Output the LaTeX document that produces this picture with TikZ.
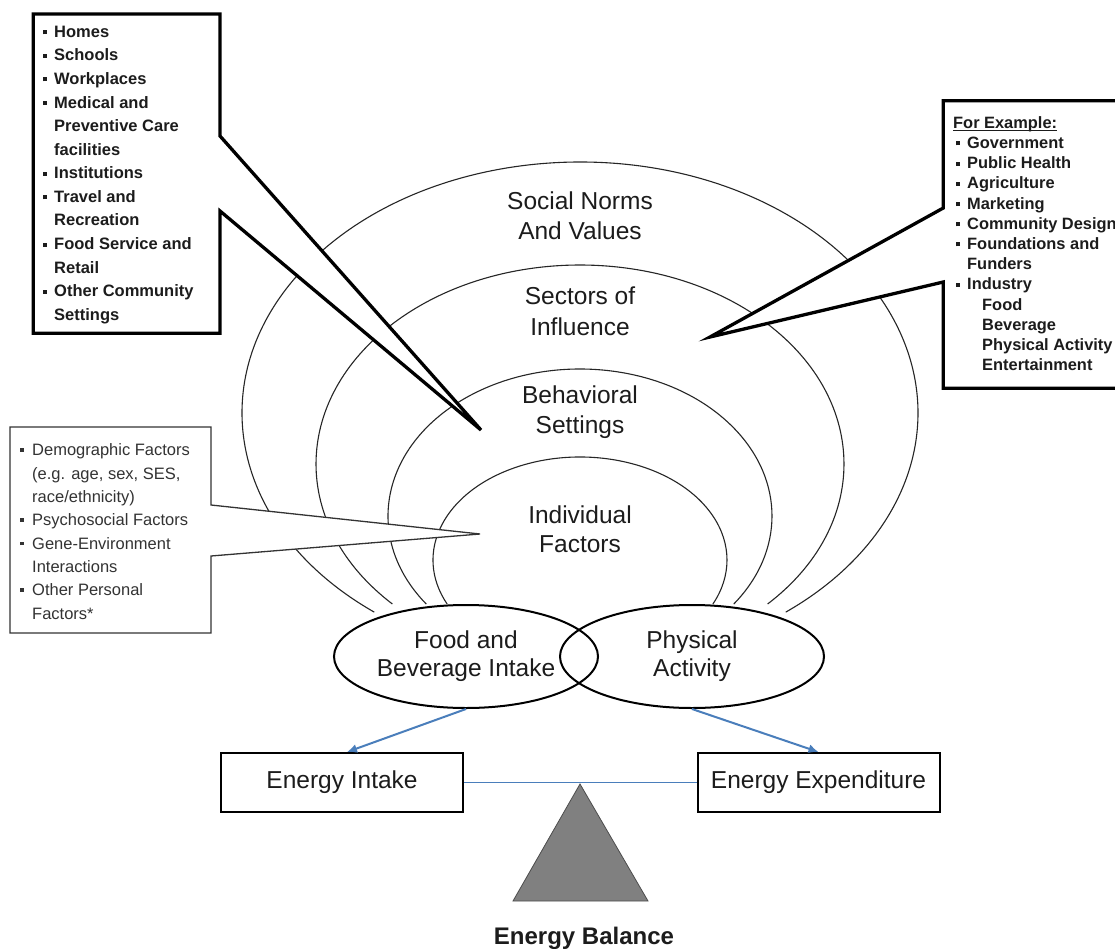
\documentclass[tikz,border=0pt]{standalone}
\usepackage{fontspec}
\setmainfont{Liberation Sans}
\usetikzlibrary{arrows.meta,shapes.geometric}
\definecolor{arrblue}{RGB}{74,126,187}
\definecolor{txt}{RGB}{28,28,28}
\definecolor{tri}{RGB}{128,128,128}
\newcommand\Bu{\makebox[11pt][l]{\raisebox{3pt}{\rule{4pt}{4pt}}}}
\newcommand\Co{\hspace*{11pt}}
\newcommand\Su{\hspace*{26pt}}
\newcommand\Bs{\makebox[12pt][l]{\raisebox{4pt}{\rule{3.5pt}{3.5pt}}}}
\newcommand\Cs{\hspace*{12pt}}
\begin{document}
\begin{tikzpicture}[x=1pt,y=-1pt,
  arch/.style={line width=1.1pt, black!85},
  callout/.style={fill=white, draw=black, line width=3.3pt},
  callthin/.style={fill=white, draw=black!80, line width=1.3pt},
  lbl/.style={font=\fontsize{24.5}{29.5}\selectfont, text=txt, inner sep=0pt, anchor=base},
  oval/.style={ellipse, draw, line width=2pt, minimum width=264pt, minimum height=103pt, inner sep=0pt, align=center, font=\fontsize{24.5}{28}\selectfont, text=txt},
  ebox/.style={draw, line width=2pt, minimum width=242pt, minimum height=59pt, inner sep=0pt, font=\fontsize{24.5}{28}\selectfont, text=txt},
  arr/.style={arrblue, line width=2pt, -{Latex[length=10pt,width=9pt]}},
  bline/.style={inner sep=0pt, anchor=base west, text=txt, font=\fontsize{16.5}{20}\selectfont\bfseries},
  rline/.style={inner sep=0pt, anchor=base west, text=txt, font=\fontsize{16.4}{20}\selectfont\bfseries},
  nline/.style={inner sep=0pt, anchor=base west, text=txt!90, font=\fontsize{16.5}{20}\selectfont}
]
\useasboundingbox (0,0) rectangle (1115,949);
\fill[white] (0,0) rectangle (1115,949);

% nested arches
\draw[arch] (580,413) ++(127.5:338 and 251) arc[start angle=127.5, end angle=412.5, x radius=338, y radius=251];
\draw[arch] (580,464) ++(135.3:264 and 199) arc[start angle=135.3, end angle=404.7, x radius=264, y radius=199];
\draw[arch] (580,516) ++(143.2:192 and 147) arc[start angle=143.2, end angle=396.8, x radius=192, y radius=147];
\draw[arch] (580,560) ++(154.7:147 and 103) arc[start angle=154.7, end angle=385.3, x radius=147, y radius=103];

% callouts
\coordinate (tltip) at (481,430);
\coordinate (rtip) at (710,337);
\coordinate (bltip) at (480,534);
\draw[callout] (33.3,14) -- (220,14) -- (220,136) -- (tltip) -- (220,211) -- (220,333.3) -- (33.3,333.3) -- cycle;
\draw[callout] (943.3,100.7) -- (1125,100.7) -- (1125,388.3) -- (943.3,388.3) -- (943.3,282) -- (rtip) -- (943.3,208) -- cycle;
\draw[callthin] (10,427) -- (211,427) -- (211,505) -- (bltip) -- (211,556) -- (211,633) -- (10,633) -- cycle;

% callout texts
\foreach \t [count=\i] in {{\Bu Homes},{\Bu Schools},{\Bu Workplaces},{\Bu Medical and},{\Co Preventive Care},{\Co facilities},{\Bu Institutions},{\Bu Travel and},{\Co Recreation},{\Bu Food Service and},{\Co Retail},{\Bu Other Community},{\Co Settings}}
  \node[bline] (tl\i) at (43,37.3+23.58*\i-23.58) {\t};

\node[rline] (fe) at (953,128.3) {For Example:};
\draw[line width=1pt, txt] ([yshift=-2pt]fe.base west) -- ([yshift=-2pt]fe.base east);
\foreach \t [count=\i] in {{\Bu Government},{\Bu Public Health},{\Bu Agriculture},{\Bu Marketing},{\Bu Community Design},{\Bu Foundations and},{\Co Funders},{\Bu Industry},{\Su Food},{\Su Beverage},{\Su Physical Activity},{\Su Entertainment}}
  \node[rline] (rt\i) at (956,148.5+20.2*\i-20.2) {\t};

\foreach \t [count=\i] in {{\Bs Demographic Factors},{\Cs (e.g. age, sex, SES,},{\Cs race/ethnicity)},{\Bs Psychosocial Factors},{\Bs Gene-Environment},{\Cs Interactions},{\Bs Other Personal},{\Cs Factors*}}
  \node[nline] (bl\i) at (20,455.7+23.33*\i-23.33) {\t};

% arch labels
\node[lbl] (sn1) at (580,210) {Social Norms};
\node[lbl] (sn2) at (580,240) {And Values};
\node[lbl] (so1) at (580,305) {Sectors of};
\node[lbl] (so2) at (580,335) {Influence};
\node[lbl] (bs1) at (580,403) {Behavioral};
\node[lbl] (bs2) at (580,433) {Settings};
\node[lbl] (if1) at (580,523) {Individual};
\node[lbl] (if2) at (580,552) {Factors};

% ellipses
\node[oval] (food) at (466,656.5) {Food and\\Beverage Intake};
\node[oval] (phys) at (692,656.5) {Physical\\Activity};

% energy boxes
\node[ebox] (ein) at (342,782.5) {Energy Intake};
\node[ebox] (eexp) at (818.5,782.5) {Energy Expenditure};

\draw[arr] (food.south) -- ([xshift=5pt]ein.north);
\draw[arr] (phys.south) -- (eexp.north);
\draw[arrblue, line width=1.2pt] (ein.east) -- (eexp.west);

% fulcrum
\coordinate (apex) at (580,784);
\coordinate (bl) at (513,901);
\coordinate (br) at (648,901);
\filldraw[fill=tri, draw=black!70, line width=0.8pt] (apex) -- (br) -- (bl) -- cycle;
\node[inner sep=0pt, anchor=base, text=txt, font=\fontsize{24}{28}\selectfont\bfseries] (eb) at (584,944) {Energy Balance};
\end{tikzpicture}
\end{document}
